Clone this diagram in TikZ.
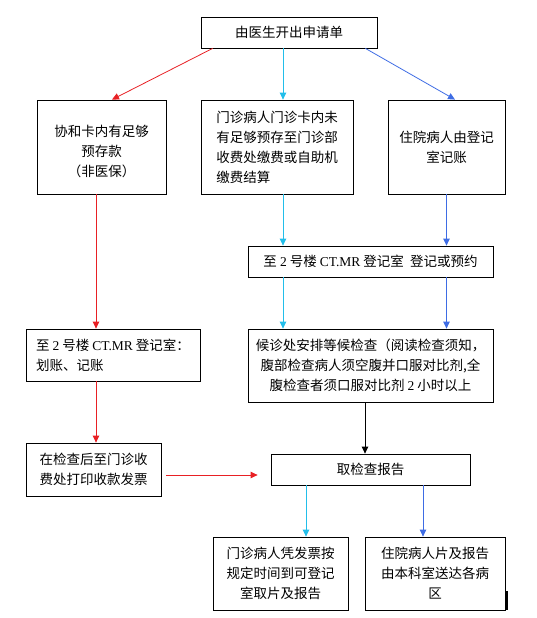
\documentclass[tikz,border=0pt]{standalone}
\usepackage{fontspec}
\setmainfont{Noto Sans CJK SC}
\newfontfamily\latinfont{Liberation Serif}
\newcommand{\lat}[1]{{\latinfont #1}}
\usetikzlibrary{arrows.meta}
\definecolor{flowred}{RGB}{232,32,36}
\definecolor{flowcyan}{RGB}{34,190,234}
\definecolor{flowblue}{RGB}{62,108,228}
\begin{document}
\begin{tikzpicture}[x=1pt,y=-1pt,
  box/.style={draw,line width=0.8pt,inner sep=2pt,align=center,
    font=\fontsize{13.5pt}{20pt}\selectfont},
  flow/.style={line width=0.8pt,-{Triangle[length=7pt,width=6.5pt]}},
  redflow/.style={flow,flowred},
  cyanflow/.style={flow,flowcyan},
  blueflow/.style={flow,flowblue}]
\useasboundingbox (0,0) rectangle (536,618);

% boxes
\node[box,minimum width=176pt,minimum height=31pt] (apply) at (289,32.5) {由医生开出申请单};
\node[box,minimum width=129pt,minimum height=94pt] (card) at (101.5,147) {\mbox{}\\协和卡内有足够\\预存款\\（非医保）};
\node[box,minimum width=152pt,minimum height=94pt,align=left] (outpat) at (277,147) {门诊病人门诊卡内未\\有足够预存至门诊部\\收费处缴费或自助机\\缴费结算};
\node[box,minimum width=117pt,minimum height=94pt] (inpat) at (446.5,147) {住院病人由登记\\室记账};
\node[box,minimum width=245pt,minimum height=31pt] (regist) at (370.5,261.5) {至 \lat{2} 号楼 \lat{CT.MR} 登记室\ \ 登记或预约};
\node[box,minimum width=174pt,minimum height=52pt,align=left] (charge) at (113,355) {至 \lat{2} 号楼 \lat{CT.MR} 登记室：\\划账、记账};
\node[box,minimum width=245pt,minimum height=73pt] (wait) at (370.5,365.5) {候诊处安排等候检查（阅读检查须知，\\腹部检查病人须空腹并口服对比剂,全\\腹检查者须口服对比剂 \lat{2} 小时以上};
\node[box,minimum width=135pt,minimum height=53pt] (invoice) at (93.5,469.5) {在检查后至门诊收\\费处打印收款发票};
\node[box,minimum width=199pt,minimum height=31pt] (report) at (370.5,469.5) {取检查报告};
\node[box,minimum width=135pt,minimum height=73pt] (takeout) at (280.5,573.5) {门诊病人凭发票按\\规定时间到可登记\\室取片及报告};
\node[box,minimum width=140pt,minimum height=73pt] (takein) at (435,573.5) {住院病人片及报告\\由本科室送达各病\\区};

% connectors
\draw[redflow] ([xshift=12pt]apply.south west) -- ([xshift=10.5pt]card.north);
\draw[cyanflow] ([xshift=6pt]outpat.north |- apply.south) -- ([xshift=6pt]outpat.north);
\draw[blueflow] ([xshift=-12pt]apply.south east) -- ([xshift=8.5pt]inpat.north);

\draw[redflow] ([xshift=-5.5pt]card.south) -- ([xshift=-5.5pt]card.south |- charge.north);
\draw[cyanflow] ([xshift=6pt]outpat.south) -- ([xshift=6pt]outpat.south |- regist.north);
\draw[blueflow] (inpat.south) -- (inpat.south |- regist.north);

\draw[cyanflow] ([xshift=6pt]outpat.south |- regist.south) -- ([xshift=6pt]outpat.south |- wait.north);
\draw[blueflow] (inpat.south |- regist.south) -- (inpat.south |- wait.north);

\draw[redflow] ([xshift=-17pt]charge.south) -- ([xshift=-17pt]charge.south |- invoice.north);
\draw[flow] ([xshift=-5.5pt]wait.south) -- ([xshift=-5.5pt]wait.south |- report.north);
\draw[redflow,shorten <=5pt,shorten >=13pt] ([yshift=-5.5pt]invoice.east) -- ([yshift=-5.5pt]invoice.east -| report.west);

\draw[cyanflow] ([xshift=-64.5pt]report.south) -- ([xshift=-64.5pt]report.south |- takeout.north);
\draw[blueflow] ([xshift=52.5pt]report.south) -- ([xshift=52.5pt]report.south |- takein.north);

\draw[line width=1.6pt] (507,591) -- (507,610);
\end{tikzpicture}
\end{document}
